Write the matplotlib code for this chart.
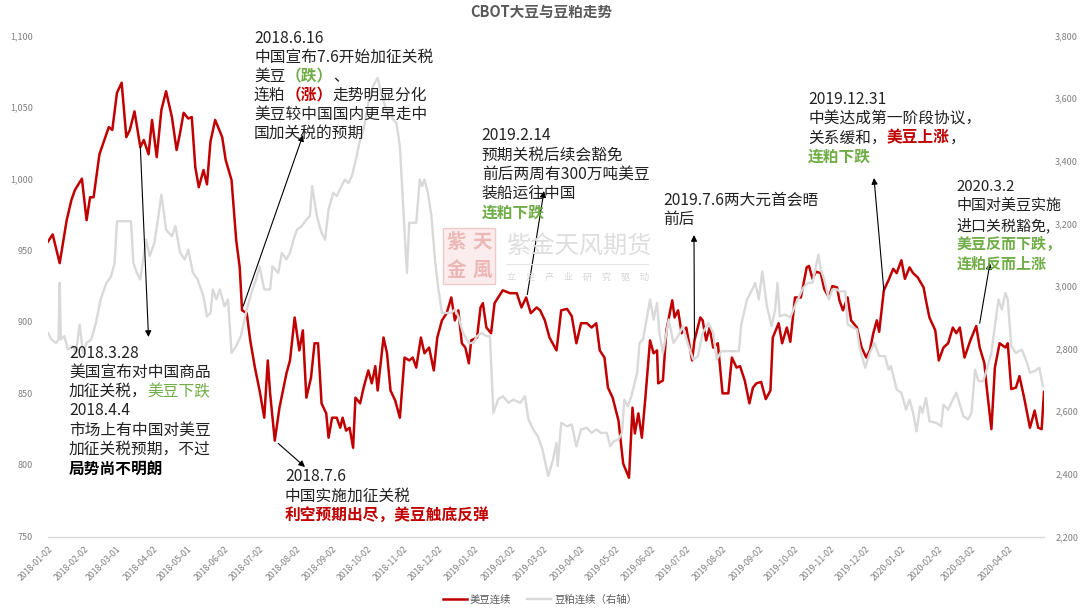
import matplotlib
matplotlib.use("Agg")
import matplotlib.pyplot as plt
import pandas as pd
from matplotlib.ticker import FuncFormatter
from matplotlib.transforms import IdentityTransform
from matplotlib.patches import Rectangle
from matplotlib.lines import Line2D

plt.rcParams["font.family"] = ["Noto Sans CJK SC", "DejaVu Sans"]

# CBOT soybean continuous (left axis)
soy_dates = [
    "2018-01-02", "2018-01-06", "2018-01-12", "2018-01-18", "2018-01-22", "2018-01-25", "2018-01-31",
    "2018-02-04", "2018-02-07", "2018-02-10", "2018-02-15", "2018-02-20", "2018-02-23", "2018-02-26",
    "2018-03-02", "2018-03-06", "2018-03-10", "2018-03-13", "2018-03-17", "2018-03-22", "2018-03-25", "2018-03-29",
    "2018-04-01", "2018-04-05", "2018-04-09", "2018-04-13", "2018-04-18", "2018-04-22", "2018-04-25", "2018-04-28",
    "2018-05-02", "2018-05-05", "2018-05-08", "2018-05-11", "2018-05-15", "2018-05-18", "2018-05-21", "2018-05-25", "2018-05-31",
    "2018-06-03", "2018-06-08", "2018-06-12", "2018-06-15", "2018-06-17", "2018-06-21", "2018-06-24", "2018-06-28",
    "2018-07-02", "2018-07-06", "2018-07-09", "2018-07-11", "2018-07-15", "2018-07-19", "2018-07-25", "2018-07-28",
    "2018-08-01", "2018-08-05", "2018-08-08", "2018-08-11", "2018-08-15", "2018-08-18", "2018-08-21", "2018-08-24", "2018-08-28", "2018-08-30",
    "2018-09-02", "2018-09-06", "2018-09-09", "2018-09-11", "2018-09-14", "2018-09-17", "2018-09-20", "2018-09-22", "2018-09-26", "2018-09-29",
    "2018-10-03", "2018-10-06", "2018-10-09", "2018-10-11", "2018-10-16", "2018-10-19", "2018-10-22", "2018-10-26", "2018-10-30",
    "2018-11-03", "2018-11-07", "2018-11-10", "2018-11-13", "2018-11-17", "2018-11-20", "2018-11-24", "2018-11-28",
    "2018-12-01", "2018-12-05", "2018-12-09", "2018-12-13", "2018-12-16", "2018-12-19", "2018-12-22", "2018-12-25", "2018-12-28", "2018-12-30",
    "2019-01-04", "2019-01-07", "2019-01-09", "2019-01-12", "2019-01-16", "2019-01-19", "2019-01-26",
    "2019-02-01", "2019-02-07", "2019-02-11", "2019-02-15", "2019-02-19", "2019-02-24", "2019-02-27",
    "2019-03-03", "2019-03-07", "2019-03-13", "2019-03-17", "2019-03-22", "2019-03-26", "2019-03-30",
    "2019-04-03", "2019-04-08", "2019-04-12", "2019-04-16", "2019-04-19", "2019-04-23", "2019-04-26", "2019-04-30",
    "2019-05-05", "2019-05-09", "2019-05-14", "2019-05-17", "2019-05-19", "2019-05-22", "2019-05-25", "2019-05-28",
    "2019-06-01", "2019-06-04", "2019-06-07", "2019-06-08", "2019-06-12", "2019-06-15", "2019-06-20", "2019-06-22", "2019-06-25", "2019-06-28",
    "2019-07-02", "2019-07-07", "2019-07-09", "2019-07-14", "2019-07-16", "2019-07-19", "2019-07-22", "2019-07-25", "2019-07-29",
    "2019-08-02", "2019-08-07", "2019-08-10", "2019-08-14", "2019-08-17", "2019-08-21", "2019-08-25", "2019-08-28", "2019-08-31",
    "2019-09-04", "2019-09-08", "2019-09-12", "2019-09-14", "2019-09-19", "2019-09-22", "2019-09-26", "2019-09-29",
    "2019-10-03", "2019-10-08", "2019-10-13", "2019-10-15", "2019-10-18", "2019-10-21", "2019-10-25", "2019-10-28",
    "2019-11-01", "2019-11-04", "2019-11-08", "2019-11-10", "2019-11-13", "2019-11-17", "2019-11-20", "2019-11-25", "2019-11-29",
    "2019-12-03", "2019-12-06", "2019-12-09", "2019-12-12", "2019-12-14", "2019-12-18", "2019-12-22", "2019-12-26", "2019-12-29",
    "2020-01-02", "2020-01-05", "2020-01-09", "2020-01-12", "2020-01-16", "2020-01-21", "2020-01-23", "2020-01-26", "2020-01-31",
    "2020-02-03", "2020-02-07", "2020-02-11", "2020-02-15", "2020-02-18", "2020-02-21", "2020-02-25",
    "2020-03-01", "2020-03-06", "2020-03-09", "2020-03-13", "2020-03-15", "2020-03-19", "2020-03-22", "2020-03-26", "2020-03-31",
    "2020-04-02", "2020-04-05", "2020-04-09", "2020-04-12", "2020-04-16", "2020-04-21", "2020-04-25", "2020-04-28",
    "2020-05-01", "2020-05-03",
]
soy_values = [
    956, 961, 941, 971, 985, 992, 1000,
    971, 987, 987, 1017, 1029, 1036, 1034,
    1060, 1067, 1029, 1034, 1047, 1022, 1027, 1017,
    1041, 1015, 1048, 1061, 1043, 1020, 1032, 1046,
    1042, 1043, 1008, 994, 1006, 996, 1026, 1041, 1029,
    1013, 999, 957, 938, 908, 906, 887, 868,
    852, 833, 873, 850, 817, 840, 864, 873,
    903, 880, 894, 847, 861, 885, 885, 843, 836, 819,
    833, 833, 826, 833, 824, 826, 812, 847, 843, 854,
    866, 857, 869, 852, 889, 878, 852, 845, 833,
    875, 873, 875, 868, 889, 878, 882, 866,
    889, 901, 906, 917, 901, 908, 885, 882, 871, 887,
    889, 910, 913, 896, 892, 913, 922,
    920, 920, 910, 917, 906, 910, 908,
    901, 889, 880, 908, 909, 904, 885,
    899, 899, 896, 899, 880, 875, 854, 847,
    831, 801, 791, 840, 822, 836, 819, 847,
    887, 878, 880, 857, 859, 894, 915, 903, 908, 892,
    896, 873, 887, 903, 901, 887, 896, 882, 885,
    850, 850, 875, 868, 869, 859, 843, 854, 857,
    858, 846, 852, 889, 899, 885, 896, 886,
    917, 917, 938, 939, 930, 935, 934, 923,
    917, 925, 924, 915, 908, 917, 901, 896, 882,
    875, 880, 892, 901, 893, 922, 929, 937, 934,
    943, 930, 938, 934, 931, 924, 915, 903, 894,
    873, 882, 885, 896, 892, 896, 875,
    887, 897, 882, 871, 854, 825, 868, 885, 882,
    885, 853, 854, 862, 847, 826, 838, 826,
    825, 851,
]

# DCE soybean meal continuous (right axis)
meal_dates = [
    "2018-01-02", "2018-01-05", "2018-01-09", "2018-01-11", "2018-01-12", "2018-01-13", "2018-01-16", "2018-01-19", "2018-01-23", "2018-01-26", "2018-01-29",
    "2018-02-01", "2018-02-04", "2018-02-08", "2018-02-12", "2018-02-16", "2018-02-21", "2018-02-25", "2018-02-28",
    "2018-03-02", "2018-03-14", "2018-03-16", "2018-03-19", "2018-03-22", "2018-03-24", "2018-03-27", "2018-03-30",
    "2018-04-03", "2018-04-06", "2018-04-09", "2018-04-13", "2018-04-18", "2018-04-21", "2018-04-25", "2018-04-29",
    "2018-05-02", "2018-05-06", "2018-05-10", "2018-05-15", "2018-05-18", "2018-05-21", "2018-05-23", "2018-05-26", "2018-05-29",
    "2018-06-02", "2018-06-05", "2018-06-08", "2018-06-12", "2018-06-16", "2018-06-21", "2018-06-25", "2018-06-29",
    "2018-07-02", "2018-07-06", "2018-07-11", "2018-07-13", "2018-07-18", "2018-07-21", "2018-07-25", "2018-07-28", "2018-07-31",
    "2018-08-03", "2018-08-07", "2018-08-11", "2018-08-14", "2018-08-16", "2018-08-20", "2018-08-24", "2018-08-27", "2018-08-30",
    "2018-09-03", "2018-09-06", "2018-09-10", "2018-09-13", "2018-09-16", "2018-09-19", "2018-09-23", "2018-09-26", "2018-09-29",
    "2018-10-03", "2018-10-07", "2018-10-11", "2018-10-14", "2018-10-19", "2018-10-22", "2018-10-24", "2018-10-27", "2018-10-30",
    "2018-11-02", "2018-11-05", "2018-11-07", "2018-11-13", "2018-11-16", "2018-11-18", "2018-11-20", "2018-11-23", "2018-11-26", "2018-11-29",
    "2018-12-02", "2018-12-05", "2018-12-09", "2018-12-13", "2018-12-16", "2018-12-19", "2018-12-23", "2018-12-28",
    "2019-01-01", "2019-01-04", "2019-01-08", "2019-01-12", "2019-01-15", "2019-01-18", "2019-01-22", "2019-01-26", "2019-01-31",
    "2019-02-04", "2019-02-10", "2019-02-14", "2019-02-17", "2019-02-21", "2019-02-25",
    "2019-03-01", "2019-03-04", "2019-03-06", "2019-03-10", "2019-03-13", "2019-03-14", "2019-03-17", "2019-03-22", "2019-03-26", "2019-03-30",
    "2019-04-03", "2019-04-08", "2019-04-12", "2019-04-16", "2019-04-20", "2019-04-25", "2019-04-28",
    "2019-05-01", "2019-05-05", "2019-05-08", "2019-05-10", "2019-05-13", "2019-05-16", "2019-05-21", "2019-05-23", "2019-05-26", "2019-05-29",
    "2019-06-01", "2019-06-04", "2019-06-07", "2019-06-09", "2019-06-12", "2019-06-17", "2019-06-21", "2019-06-25", "2019-06-29",
    "2019-07-04", "2019-07-08", "2019-07-12", "2019-07-16", "2019-07-21", "2019-07-25", "2019-07-28",
    "2019-08-01", "2019-08-16", "2019-08-18", "2019-08-23", "2019-08-26", "2019-08-30",
    "2019-09-02", "2019-09-05", "2019-09-09", "2019-09-13", "2019-09-16", "2019-09-18", "2019-09-20", "2019-09-24", "2019-09-29",
    "2019-10-04", "2019-10-10", "2019-10-14", "2019-10-18", "2019-10-23", "2019-10-25", "2019-10-28",
    "2019-11-01", "2019-11-04", "2019-11-08", "2019-11-10", "2019-11-15", "2019-11-17", "2019-11-20", "2019-11-25", "2019-11-27",
    "2019-12-02", "2019-12-06", "2019-12-10", "2019-12-14", "2019-12-19", "2019-12-22", "2019-12-24", "2019-12-29",
    "2020-01-02", "2020-01-06", "2020-01-09", "2020-01-12", "2020-01-15", "2020-01-18", "2020-01-20", "2020-01-23", "2020-01-26",
    "2020-02-01", "2020-02-05", "2020-02-07", "2020-02-11", "2020-02-15", "2020-02-18", "2020-02-21", "2020-02-24", "2020-02-28",
    "2020-03-02", "2020-03-05", "2020-03-08", "2020-03-12", "2020-03-15", "2020-03-19", "2020-03-22", "2020-03-25", "2020-03-28", "2020-03-31",
    "2020-04-02", "2020-04-05", "2020-04-09", "2020-04-14", "2020-04-18", "2020-04-21", "2020-04-25", "2020-04-29",
    "2020-05-02",
]
meal_values = [
    2850, 2829, 2818, 2829, 3010, 2829, 2840, 2797, 2808, 2786, 2877,
    2786, 2818, 2829, 2882, 2957, 3010, 3031, 3074,
    3207, 3207, 3074, 3042, 3021, 3074, 3148, 3095,
    3138, 3212, 3292, 3180, 3159, 3191, 3106, 3085,
    3116, 3042, 3021, 2967, 2903, 2914, 2989, 2957, 2989,
    2935, 2957, 2786, 2808, 2840, 2925, 2978, 3021,
    3063, 2989, 2989, 3063, 3042, 3106, 3085, 3106, 3148,
    3180, 3191, 3212, 3223, 3319, 3223, 3170, 3148, 3244,
    3298, 3287, 3319, 3340, 3329, 3351, 3415, 3468, 3500,
    3585, 3638, 3665, 3617, 3553, 3564, 3532, 3521, 3446,
    3244, 3042, 3202, 3202, 3340, 3319, 3340, 3298, 3223, 3085,
    2989, 2914, 2914, 2914, 2925, 2903, 2850, 2818,
    2818, 2840, 2850, 2840, 2840, 2595, 2637, 2648, 2627,
    2637, 2627, 2648, 2574, 2542, 2520,
    2478, 2425, 2393, 2446, 2499, 2425, 2563, 2552, 2558, 2488,
    2542, 2547, 2531, 2542, 2531, 2531, 2488,
    2504, 2510, 2531, 2637, 2616, 2648, 2723, 2818, 2829, 2893,
    2957, 2893, 2946, 2850, 2786, 2893, 2818, 2840, 2871,
    2808, 2765, 2776, 2850, 2882, 2850, 2765,
    2792, 2792, 2877, 2957, 2978, 3010,
    2957, 3047, 2935, 2871, 2925, 3010, 2903, 2909, 2900,
    2946, 2994, 3010, 3010, 3100, 3053, 3021,
    2957, 2989, 2989, 2983, 2983, 2877, 2871, 2861, 2808,
    2739, 2786, 2818, 2776, 2776, 2733, 2744, 2669,
    2659, 2605, 2637, 2595, 2536, 2616, 2595, 2643, 2568,
    2563, 2552, 2621, 2605, 2637, 2659, 2621, 2584, 2574,
    2595, 2733, 2696, 2696, 2733, 2786, 2871, 2957, 2925, 2978,
    2957, 2808, 2786, 2797, 2760, 2723, 2728, 2739,
    2680,
]

tick_dates = [
    "2018-01-02", "2018-02-02", "2018-03-01", "2018-04-02", "2018-05-01", "2018-06-02",
    "2018-07-02", "2018-08-02", "2018-09-02", "2018-10-02", "2018-11-02", "2018-12-02",
    "2019-01-02", "2019-02-02", "2019-03-02", "2019-04-02", "2019-05-02", "2019-06-02",
    "2019-07-02", "2019-08-02", "2019-09-02", "2019-10-02", "2019-11-02", "2019-12-02",
    "2020-01-02", "2020-02-02", "2020-03-02", "2020-04-02",
]

RED = "#C00000"
GREEN = "#70AD47"
GREY = "#D9D9D9"
TXT = "#222222"

W, H = 1080, 612
fig = plt.figure(figsize=(W / 100, H / 100), dpi=100)
ax = fig.add_axes([48 / W, (H - 536.5) / H, 996 / W, 501 / H])
ax2 = ax.twinx()

l1, = ax.plot(pd.to_datetime(soy_dates), soy_values, color=RED, lw=1.8)
l2, = ax2.plot(pd.to_datetime(meal_dates), meal_values, color=GREY, lw=1.7)

ax.set_xlim(pd.Timestamp("2018-01-02"), pd.Timestamp("2020-05-03"))
ax.set_ylim(750, 1100)
ax2.set_ylim(2200, 3800)
ax.set_yticks(range(750, 1101, 50))
ax2.set_yticks(range(2200, 3801, 200))
fmt = FuncFormatter(lambda v, _: f"{v:,.0f}")
ax.yaxis.set_major_formatter(fmt)
ax2.yaxis.set_major_formatter(fmt)

ax.set_xticks(pd.to_datetime(tick_dates))
ax.set_xticklabels(tick_dates, rotation=45, ha="right", va="top",
                   rotation_mode="anchor", fontsize=6.3, color="#7F7F7F")
ax.tick_params(axis="x", length=0, pad=6)
ax.tick_params(axis="y", length=0, pad=11, labelsize=6.5, labelcolor="#7F7F7F")
ax2.tick_params(axis="y", length=0, pad=8, labelsize=6.5, labelcolor="#7F7F7F")

for a in (ax, ax2):
    for s in ("top", "left", "right"):
        a.spines[s].set_visible(False)
ax2.spines["bottom"].set_visible(False)
ax.spines["bottom"].set_color(GREY)
ax.spines["bottom"].set_linewidth(1)

fig.text(541, H - 12, "CBOT大豆与豆粕走势", transform=IdentityTransform(),
         ha="center", va="center", fontsize=10.5, fontweight="bold", color="#595959")

fig.legend(handles=[l1, l2], labels=["美豆连续", "豆粕连续（右轴）"], loc="center",
           bbox_to_anchor=(540 / W, 1 - 600 / H), ncol=2, frameon=False, fontsize=7.5,
           handlelength=2.3, handletextpad=0.3, columnspacing=1.5, labelcolor="#595959")

# watermark
ident = IdentityTransform()
fig.add_artist(Rectangle((443, H - 284), 52, 56, transform=ident,
                         facecolor="#FBEDED", edgecolor="#F0C9C9", lw=1))
for ch, cx, cy in [("紫", 456, 242), ("天", 482, 242), ("金", 456, 270), ("風", 482, 270)]:
    fig.text(cx, H - cy, ch, transform=ident, ha="center", va="center",
             fontsize=14, color="#EBB7B7", fontweight="bold")
fig.text(506, H - 246, "紫金天风期货", transform=ident, ha="left", va="center",
         fontsize=17.5, color="#DEDEDE")
fig.add_artist(Line2D([506, 648], [H - 264, H - 264], transform=ident, color="#E6E6E6", lw=0.8))
for i, ch in enumerate("立足产业研究驱动"):
    fig.text(511 + i * 19, H - 277, ch, transform=ident, ha="center", va="center",
             fontsize=6.5, color="#D5D5D5")

# annotations: multi-coloured text lines
renderer = fig.canvas.get_renderer()


def put_lines(x, y_first, lines, step=19.2, size=11.3):
    for i, segs in enumerate(lines):
        cx = x
        cy = H - (y_first + i * step)
        for txt, col, bold in segs:
            t = fig.text(cx, cy, txt, transform=ident, ha="left", va="center",
                         fontsize=size, color=col,
                         fontweight="bold" if bold else "normal")
            cx += t.get_window_extent(renderer).width


put_lines(254, 38.5, [
    [("2018.6.16", TXT, False)],
    [("中国宣布7.6开始加征关税", TXT, False)],
    [("美豆", TXT, False), ("（跌）", GREEN, True), ("、", TXT, False)],
    [("连粕", TXT, False), ("（涨）", RED, True), ("走势明显分化", TXT, False)],
    [("美豆较中国国内更早走中", TXT, False)],
    [("国加关税的预期", TXT, False)],
], step=19.0)
put_lines(69, 353.3, [
    [("2018.3.28", TXT, False)],
    [("美国宣布对中国商品", TXT, False)],
    [("加征关税，", TXT, False), ("美豆下跌", GREEN, False)],
    [("2018.4.4", TXT, False)],
    [("市场上有中国对美豆", TXT, False)],
    [("加征关税预期，不过", TXT, False)],
    [("局势尚不明朗", "#000000", True)],
])
put_lines(285, 476.7, [
    [("2018.7.6", TXT, False)],
    [("中国实施加征关税", TXT, False)],
    [("利空预期出尽，美豆触底反弹", RED, True)],
])
put_lines(481.7, 136, [
    [("2019.2.14", TXT, False)],
    [("预期关税后续会豁免", TXT, False)],
    [("前后两周有300万吨美豆", TXT, False)],
    [("装船运往中国", TXT, False)],
    [("连粕下跌", GREEN, True)],
])
put_lines(663.3, 200, [
    [("2019.7.6两大元首会晤", TXT, False)],
    [("前后", TXT, False)],
])
put_lines(808, 100, [
    [("2019.12.31", TXT, False)],
    [("中美达成第一阶段协议，", TXT, False)],
    [("关系缓和，", TXT, False), ("美豆上涨", RED, True), ("，", TXT, False)],
    [("连粕下跌", GREEN, True)],
], step=18.9)
put_lines(956.7, 186.7, [
    [("2020.3.2", TXT, False)],
    [("中国对美豆实施", TXT, False)],
    [("进口关税豁免,", TXT, False)],
    [("美豆反而下跌，", GREEN, True)],
    [("连粕反而上涨", GREEN, True)],
], size=10.8)

# arrows: tail on the soybean line, head at the note
arrows = [
    ("2018-06-18", 911, (303, 135)),
    ("2018-03-22", 1022, (148.5, 337)),
    ("2018-07-18", 815, (305, 467)),
    ("2019-02-16", 919, (544, 191)),
    ("2019-07-09", 888, (694, 235)),
    ("2019-12-18", 922, (874, 178)),
    ("2020-03-09", 899, (990, 263)),
]
for d, v, (hx, hy) in arrows:
    ax2.annotate("", xy=(hx, H - hy), xycoords="figure pixels",
                 xytext=(pd.Timestamp(d), v), textcoords=ax.transData,
                 arrowprops=dict(arrowstyle="-|>", color="black", lw=0.8,
                                 mutation_scale=9, shrinkA=0, shrinkB=0))

fig.savefig("out.png", dpi=100)
